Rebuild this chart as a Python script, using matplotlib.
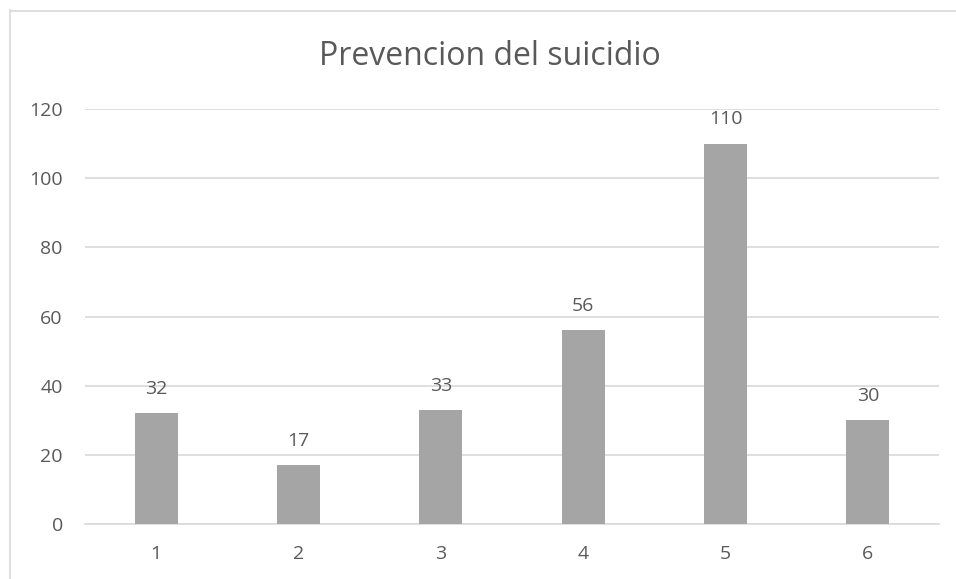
import matplotlib
matplotlib.use("Agg")
import matplotlib.pyplot as plt
from matplotlib.lines import Line2D

categories = ["1", "2", "3", "4", "5", "6"]
values = [32, 17, 33, 56, 110, 30]
yticks = [0, 20, 40, 60, 80, 100, 120]
title = "Prevencion del suicidio"

plt.rcParams['font.family'] = ['Open Sans', 'DejaVu Sans']
txt = '#595959'

fig = plt.figure(figsize=(9.56, 5.79), dpi=100)
ax = fig.add_axes([85/956, 1-524/579, (939-85)/956, (524-109)/579])

x = list(range(len(categories)))
ax.bar(x, values, width=0.30, color='#A5A5A5', zorder=3)
for xi, v in zip(x, values):
    ax.annotate(str(v), (xi, v), xytext=(0, 11), textcoords='offset points',
                ha='center', va='bottom', fontsize=14, color=txt)

ax.set_xlim(-0.5, len(categories) - 0.5)
ax.set_ylim(0, 120)
ax.set_yticks(yticks)
ax.set_xticks(x)
ax.set_xticklabels(categories)
ax.grid(axis='y', color='#D9D9D9', linewidth=1.2, zorder=0)
for s in ['top', 'right', 'left']:
    ax.spines[s].set_visible(False)
ax.spines['bottom'].set_color('#D9D9D9')
ax.spines['bottom'].set_linewidth(1.2)
ax.tick_params(axis='both', length=0, labelsize=14, labelcolor=txt)
ax.tick_params(axis='y', pad=16)
ax.tick_params(axis='x', pad=15)

fig.text(490/956, 1-65/579, title, ha='center', va='baseline', fontsize=23, color=txt)

# chart border
fig.add_artist(Line2D([9.5/956, 9.5/956], [0, 1-10/579], transform=fig.transFigure,
                      color='#D9D9D9', linewidth=1.2))
fig.add_artist(Line2D([9.5/956, 1], [1-10.5/579, 1-10.5/579], transform=fig.transFigure,
                      color='#D9D9D9', linewidth=1.2))

fig.savefig("out.png", dpi=100)
